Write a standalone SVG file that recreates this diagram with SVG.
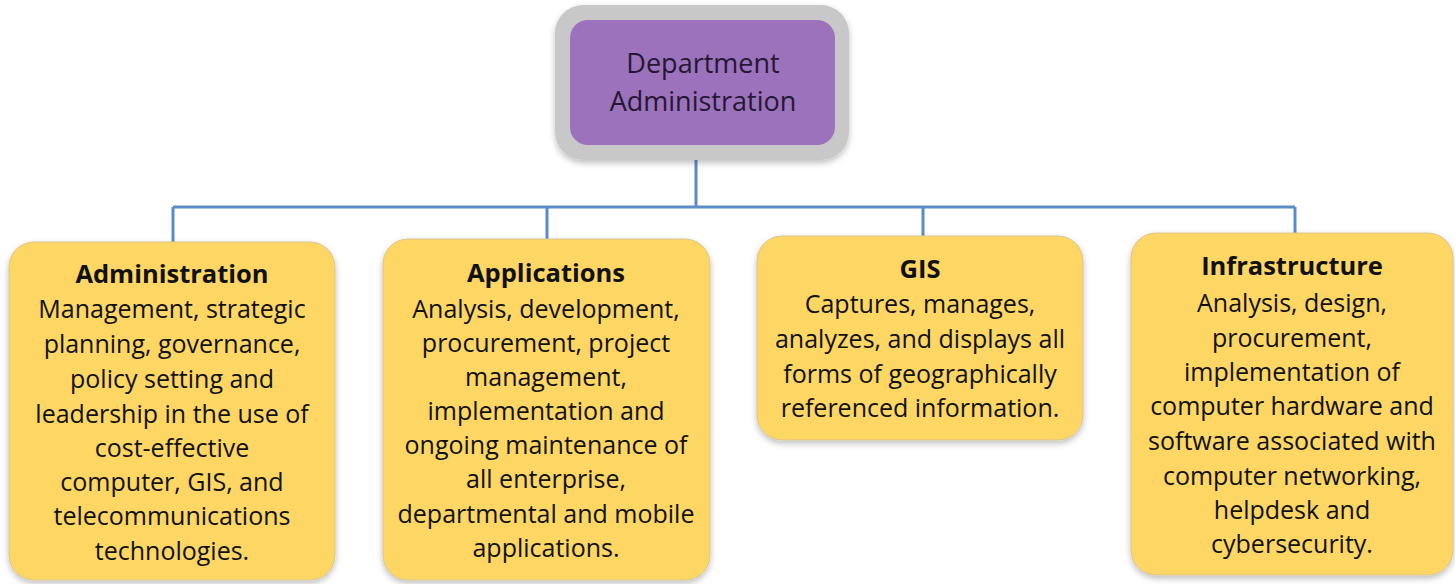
<svg xmlns="http://www.w3.org/2000/svg" width="1455" height="584" viewBox="0 0 1455 584">
<defs>
<filter id="sh" x="-10%" y="-10%" width="120%" height="125%">
<feDropShadow dx="0" dy="3" stdDeviation="3" flood-color="#000" flood-opacity="0.25"/>
</filter>
</defs>
<style>
.box{fill:#fdd663;stroke:#d9c690;stroke-width:1;filter:url(#sh)}
.t{font-family:"Open Sans",Lato,sans-serif;font-size:25px;fill:#111;text-anchor:middle}
.h{font-weight:bold;font-size:25.5px}
.d{fill:#241833;font-size:27px}
.conn{fill:none;stroke:#5b8cc8;stroke-width:3}
</style>
<rect width="1455" height="584" fill="#fff"/>
<g id="connectors">
<path class="conn" d="M696 160V207M173 207H1295M173 207V242M547 207V239M923 207V236M1295 207V233"/>
</g>
<g id="dept">
<rect x="555" y="5" width="294" height="155" rx="28" fill="#c8c8c8" filter="url(#sh)"/>
<rect x="570" y="20" width="265" height="125" rx="18" fill="#9b72bb"/>
<text class="t d" x="703" y="73">Department</text>
<text class="t d" x="703" y="111">Administration</text>
</g>
<g id="administration">
<rect class="box" x="9" y="242" width="326" height="338" rx="25"/>
<text class="t h" x="172" y="283">Administration</text>
<text class="t" x="172" y="318">Management, strategic</text>
<text class="t" x="172" y="353">planning, governance,</text>
<text class="t" x="172" y="388">policy setting and</text>
<text class="t" x="172" y="423">leadership in the use of</text>
<text class="t" x="172" y="457">cost-effective</text>
<text class="t" x="172" y="491">computer, GIS, and</text>
<text class="t" x="172" y="525">telecommunications</text>
<text class="t" x="172" y="560">technologies.</text>
</g>
<g id="applications">
<rect class="box" x="383" y="239" width="327" height="341" rx="25"/>
<text class="t h" x="546" y="282">Applications</text>
<text class="t" x="546" y="318">Analysis, development,</text>
<text class="t" x="546" y="352">procurement, project</text>
<text class="t" x="546" y="386">management,</text>
<text class="t" x="546" y="420">implementation and</text>
<text class="t" x="546" y="454">ongoing maintenance of</text>
<text class="t" x="546" y="488">all enterprise,</text>
<text class="t" x="546" y="523">departmental and mobile</text>
<text class="t" x="546" y="557">applications.</text>
</g>
<g id="gis">
<rect class="box" x="757" y="236" width="326" height="204" rx="25"/>
<text class="t h" x="920" y="278">GIS</text>
<text class="t" x="920" y="313">Captures, manages,</text>
<text class="t" x="920" y="348">analyzes, and displays all</text>
<text class="t" x="920" y="383">forms of geographically</text>
<text class="t" x="920" y="417">referenced information.</text>
</g>
<g id="infrastructure">
<rect class="box" x="1131" y="233" width="322" height="342" rx="25"/>
<text class="t h" x="1292" y="275">Infrastructure</text>
<text class="t" x="1292" y="312">Analysis, design,</text>
<text class="t" x="1292" y="347">procurement,</text>
<text class="t" x="1292" y="381">implementation of</text>
<text class="t" x="1292" y="415">computer hardware and</text>
<text class="t" x="1292" y="450">software associated with</text>
<text class="t" x="1292" y="485">computer networking,</text>
<text class="t" x="1292" y="519">helpdesk and</text>
<text class="t" x="1292" y="553">cybersecurity.</text>
</g>
</svg>
